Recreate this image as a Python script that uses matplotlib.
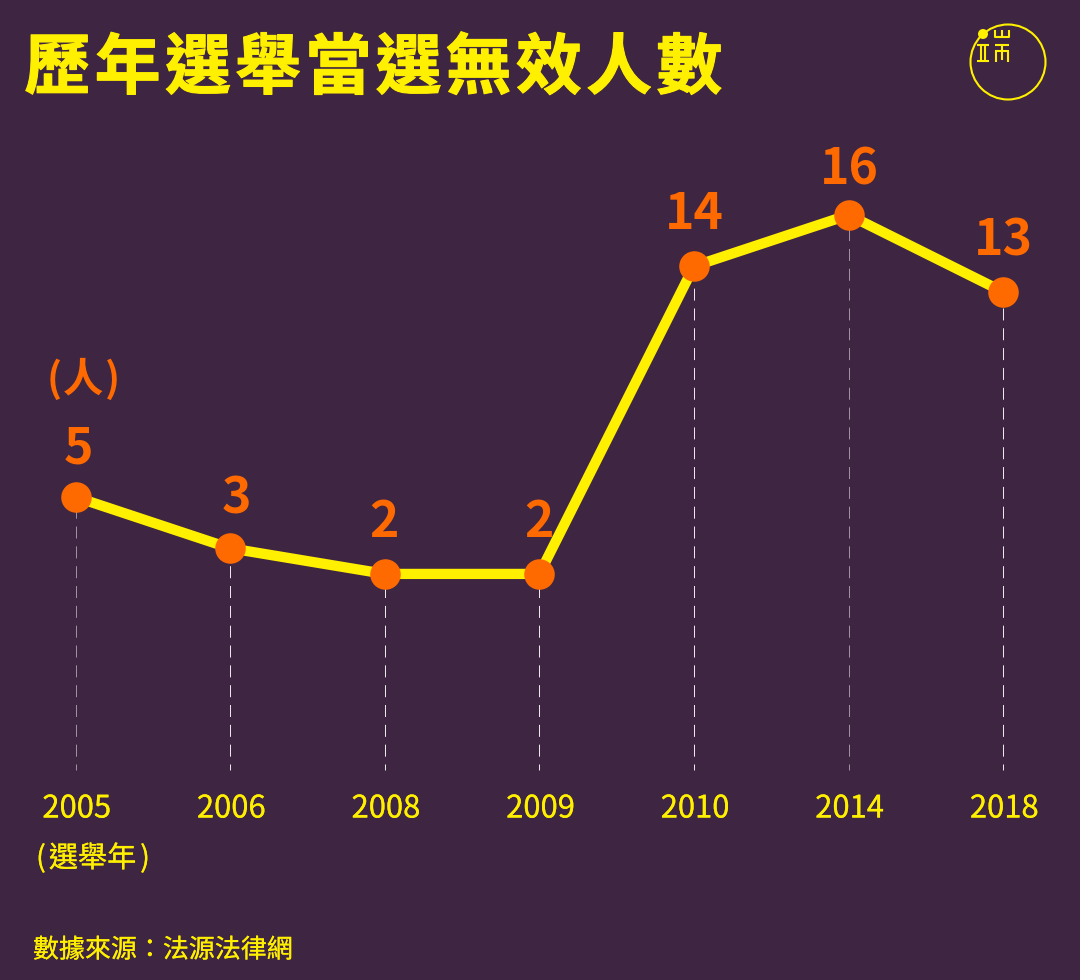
import matplotlib
matplotlib.use('Agg')
import matplotlib.pyplot as plt
import matplotlib.patheffects as pe
from matplotlib.patches import Circle

plt.rcParams['font.family'] = ['Noto Sans CJK TC', 'DejaVu Sans']

years = ['2005', '2006', '2008', '2009', '2010', '2014', '2018']
counts = [5, 3, 2, 2, 14, 16, 13]
title = '歷年選舉當選無效人數'
unit_label = '人'
year_label = '選舉年'
source = '數據來源：法源法律網'

BG = '#3e2542'
YELLOW = '#fff000'
ORANGE = '#ff6a00'

W, H = 1080, 980
fig = plt.figure(figsize=(W / 100, H / 100), dpi=100, facecolor=BG)

# chart axes fills the figure, limits chosen so index/value land on the right pixels
ax = fig.add_axes([0, 0, 1, 1], facecolor='none')
x0, dx = 75.6, 154.6
y0, dy = 625.2, 25.64
ax.set_xlim((0 - x0) / dx, (W - x0) / dx)
ax.set_ylim((y0 - H) / dy, y0 / dy)
ax.axis('off')
xs = list(range(len(years)))

# pixel axes for the free text and logo
px = fig.add_axes([0, 0, 1, 1], facecolor='none')
px.set_xlim(0, W)
px.set_ylim(H, 0)
px.axis('off')

thin = [pe.withStroke(linewidth=0.15, foreground=YELLOW)]

# dashes run up from the baseline, lw of 1px makes the pattern units pixels
bottom = (y0 - 770) / dy
dash_alpha = [0.5, 0.9, 0.9, 0.9, 0.9, 0.5, 0.9]
for x, c, a in zip(xs, counts, dash_alpha):
    ax.plot([x, x], [bottom, c], color='white', lw=0.72, alpha=a,
            linestyle=(6, (12, 7.83)), dash_capstyle='butt', zorder=1)

ax.plot(xs, counts, color=YELLOW, lw=7.4, solid_joinstyle='miter', zorder=2)
ax.plot(xs, counts, 'o', color=ORANGE, ms=22, mew=0, zorder=3)

# label nudges in px, the source places them a bit unevenly
nudge_x = [2.5, 6, -0.5, -0.5, 0.5, 0.5, 0.5]
nudge_y = [48, 49, 51, 51, 52, 45, 51]
for x, c, y, nx, ny in zip(xs, counts, years, nudge_x, nudge_y):
    ax.annotate(str(c), (x, c), xytext=(nx * 0.72, ny * 0.72), textcoords='offset points',
                ha='center', va='center', color=ORANGE, fontsize=36, fontweight='bold', zorder=4)
    px.text(x0 + dx * x + 1, 809, y, ha='center', va='center', color=YELLOW, fontsize=22.3,
            path_effects=thin)

# title, one char at a time for the wide spacing
for i, ch in enumerate(title):
    px.text(57.5 + i * 70.2, 69, ch, ha='center', va='center', color=YELLOW,
            fontsize=47.5, fontweight='black',
            path_effects=[pe.withStroke(linewidth=0.8, foreground=YELLOW)])

# brackets set apart by hand, they sit wider than the font's own
px.text(54, 380, '(', ha='center', va='center', color=ORANGE, fontsize=29, fontweight='bold')
px.text(83, 380, unit_label, ha='center', va='center', color=ORANGE, fontsize=29, fontweight='bold')
px.text(112, 380, ')', ha='center', va='center', color=ORANGE, fontsize=29, fontweight='bold')
px.text(41, 859, '(', ha='center', va='center', color=YELLOW, fontsize=21, path_effects=thin)
px.text(92.5, 859, year_label, ha='center', va='center', color=YELLOW, fontsize=21, path_effects=thin)
px.text(145, 859, ')', ha='center', va='center', color=YELLOW, fontsize=21, path_effects=thin)
px.text(33, 950, source, ha='left', va='center', color=YELLOW, fontsize=18.7, path_effects=thin)

# logo
px.add_patch(Circle((1008, 62), 37.5, fill=False, ec=YELLOW, lw=1.5))
px.add_patch(Circle((983, 34), 5, fc=YELLOW, ec='none'))
logo_lines = [
    ([995, 995, 1009, 1009], [30, 37, 37, 30]),
    ([1002, 1002], [30, 37]),
    ([995, 1009], [45, 45]),
    ([996, 996], [51, 62]), ([1002, 1002], [45, 60]), ([1008, 1008], [51, 62]),
    ([995, 1009], [51, 51]),
    ([977, 989], [45, 45]), ([977, 989], [61, 61]),
    ([981, 981], [45, 61]), ([985, 985], [45, 61]),
]
for lx, ly in logo_lines:
    px.plot(lx, ly, color=YELLOW, lw=1.5, solid_capstyle='butt')

fig.savefig('out.png', dpi=100, facecolor=BG)
